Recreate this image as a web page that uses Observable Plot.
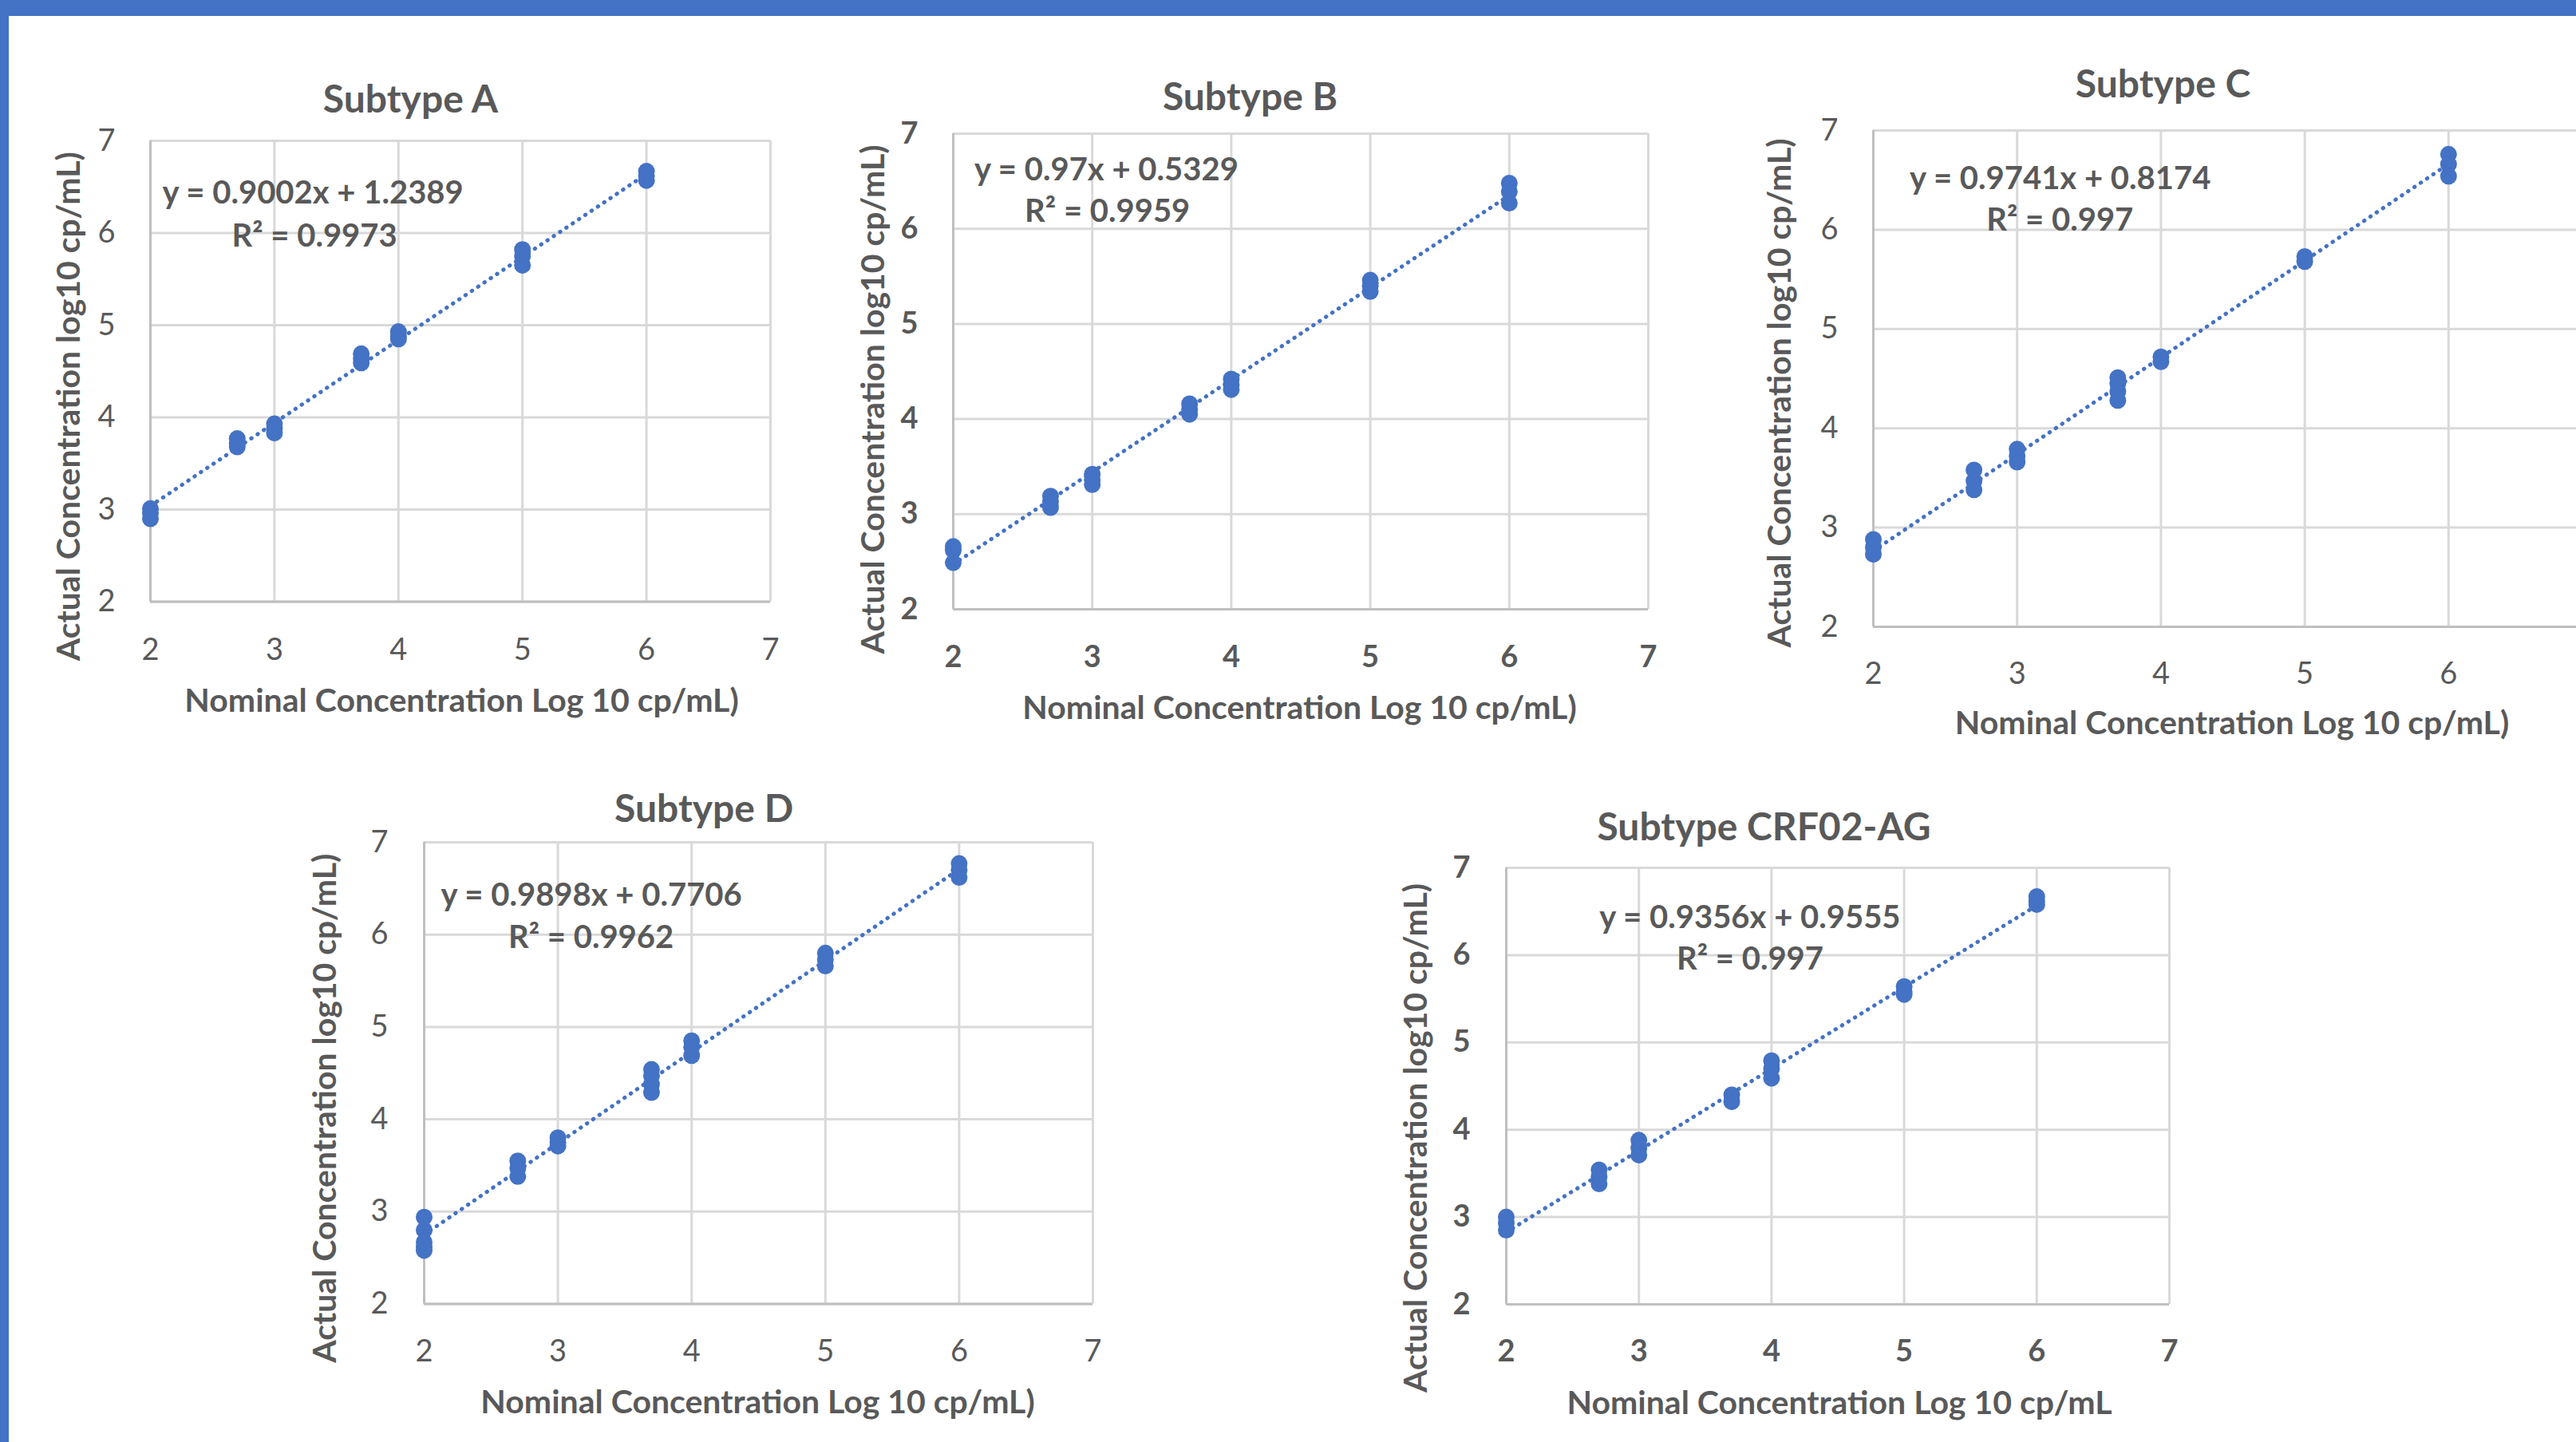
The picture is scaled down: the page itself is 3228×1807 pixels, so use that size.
<!DOCTYPE html>
<html>
<head>
<meta charset="utf-8">
<script src="https://cdn.jsdelivr.net/npm/d3@7"></script>
<script src="https://cdn.jsdelivr.net/npm/@observablehq/plot@0.6"></script>
<style>
html, body { margin: 0; padding: 0; background: #fff; overflow: hidden; }
#page { position: relative; width: 3228px; height: 1807px; overflow: hidden; background: #fff; }
.bar { position: absolute; background: #4472C4; z-index: 2; }
.panel { position: absolute; }
</style>
</head>
<body>
<div id="page">
  <div class="bar" style="left:0;top:0;width:3228px;height:20px"></div>
  <div class="bar" style="left:0;top:0;width:11px;height:1807px"></div>
</div>
<script>
// ---------------- data ----------------
const xTicks = [2, 3, 4, 5, 6, 7];
const yTicks = [2, 3, 4, 5, 6, 7];
const nominal = [2, 2.7, 3, 3.7, 4, 5, 6];
const subtypeNames = ["Subtype A", "Subtype B", "Subtype C", "Subtype D", "Subtype CRF02-AG"];

// replicate results (log10 cp/mL) at each nominal level
const actualA = [[3.01, 2.96, 2.90], [3.77, 3.72, 3.68], [3.93, 3.88, 3.83], [4.69, 4.64, 4.59], [4.93, 4.88, 4.85], [5.82, 5.75, 5.65], [6.67, 6.62, 6.57]];
const actualB = [[2.66, 2.62, 2.49], [3.19, 3.13, 3.07], [3.42, 3.36, 3.31], [4.16, 4.10, 4.05], [4.42, 4.36, 4.31], [5.46, 5.40, 5.34], [6.48, 6.39, 6.27]];
const actualC = [[2.88, 2.80, 2.73], [3.58, 3.47, 3.38], [3.79, 3.72, 3.66], [4.51, 4.45, 4.37, 4.28], [4.72, 4.67], [5.73, 5.68], [6.76, 6.66, 6.54]];
const actualD = [[2.94, 2.80, 2.67, 2.62, 2.58], [3.55, 3.47, 3.38], [3.80, 3.75, 3.71], [4.54, 4.47, 4.38, 4.29], [4.85, 4.78, 4.69], [5.80, 5.73, 5.66], [6.77, 6.70, 6.62]];
const actualE = [[3.00, 2.93, 2.85], [3.54, 3.46, 3.38], [3.88, 3.79, 3.71], [4.40, 4.32], [4.79, 4.70, 4.59], [5.64, 5.58, 5.55], [6.67, 6.62, 6.58]];

const slopes = [0.9002, 0.97, 0.9741, 0.9898, 0.9356];
const intercepts = [1.2389, 0.5329, 0.8174, 0.7706, 0.9555];
const rSquared = [0.9973, 0.9959, 0.997, 0.9962, 0.997];

const xTitles = [
  "Nominal Concentration Log 10 cp/mL)",
  "Nominal Concentration Log 10 cp/mL)",
  "Nominal Concentration Log 10 cp/mL)",
  "Nominal Concentration Log 10 cp/mL)",
  "Nominal Concentration Log 10 cp/mL"
];
const yTitle = "Actual Concentration log10 cp/mL)";
const seriesValues = [actualA, actualB, actualC, actualD, actualE];

// ---------------- layout (pixels) ----------------
const PAGE_W = 3228;
const layout = [
  {L: 188,  T: 176,  R: 965,  B: 753.5, title: [-62.5, -51], yt: [-102, 44], xt: [1.5, 124.5], eq: [15, 66],    r2: [102, 120],   ypad: 44, xpad: 46, tickWeight: "normal"},
  {L: 1194, T: 167,  R: 2065, B: 763,   title: [-63.5, -45], yt: [-100, 35], xt: [-1.5, 124.5], eq: [26.5, 45.6], r2: [89.6, 97.8],  ypad: 44, xpad: 46, tickWeight: "bold"},
  {L: 2347, T: 163,  R: 3248, B: 785,   title: [-87.5, -57], yt: [-117, 18], xt: [-1, 121.7],   eq: [45.6, 60.6], r2: [141.8, 112.3], ypad: 44, xpad: 45, tickWeight: "normal"},
  {L: 531,  T: 1055, R: 1369, B: 1633.5,title: [-68.4, -41], yt: [-124, 44], xt: [-1, 123.4],   eq: [21, 67],     r2: [105.5, 119.5], ypad: 45, xpad: 45, tickWeight: "normal"},
  {L: 1887, T: 1087, R: 2718, B: 1634,  title: [-92.5, -50], yt: [-113, 65], xt: [2, 124],      eq: [116.8, 62.8],r2: [213.5, 114.5], ypad: 45, xpad: 45, tickWeight: "bold"}
];
const M = {left: 175, right: 20, top: 100, bottom: 170};
const blue = "#4472C4";
const textGray = "#595959";

const page = document.getElementById("page");

seriesValues.forEach((values, i) => {
  const lay = layout[i];
  const points = nominal.flatMap((x, j) => values[j].map(y => ({x, y})));
  const [x0, x1] = d3.extent(nominal);
  const trend = [x0, x1].map(x => ({x, y: slopes[i] * x + intercepts[i]}));
  const eqText = `y = ${slopes[i]}x + ${intercepts[i]}`;
  const r2Text = `R² = ${rSquared[i]}`;

  const W = lay.R - lay.L, H = lay.B - lay.T;
  // tick labels whose position falls past the page edge are not shown (as in the cropped reference)
  const xPos = d3.scaleLinear([xTicks[0], xTicks[xTicks.length - 1]], [lay.L, lay.R]);
  const visibleXTicks = xTicks.filter(t => xPos(t) + 10 < PAGE_W);

  const chart = Plot.plot({
    width: W + M.left + M.right,
    height: H + M.top + M.bottom,
    marginLeft: M.left, marginRight: M.right, marginTop: M.top, marginBottom: M.bottom,
    x: {domain: [xTicks[0], xTicks[xTicks.length - 1]]},
    y: {domain: [yTicks[0], yTicks[yTicks.length - 1]]},
    style: {background: "transparent", overflow: "visible", color: textGray, fontFamily: "Lato, 'Open Sans', sans-serif"},
    marks: [
      Plot.gridX(xTicks, {stroke: "#d9d9d9", strokeOpacity: 1, strokeWidth: 3}),
      Plot.gridY(yTicks, {stroke: "#d9d9d9", strokeOpacity: 1, strokeWidth: 3}),
      Plot.ruleX([xTicks[0]], {stroke: "#bfbfbf", strokeWidth: 3}),
      Plot.ruleY([yTicks[0]], {stroke: "#bfbfbf", strokeWidth: 3}),
      Plot.axisX(visibleXTicks, {tickSize: 0, tickPadding: lay.xpad, fontSize: 38, fontWeight: lay.tickWeight, tickFormat: "d", label: null}),
      Plot.axisY(yTicks, {tickSize: 0, tickPadding: lay.ypad, fontSize: 38, fontWeight: lay.tickWeight, tickFormat: "d", label: null}),
      Plot.dot(points, {x: "x", y: "y", r: 10.5, fill: blue, stroke: "none"}),
      Plot.line(trend, {x: "x", y: "y", stroke: blue, strokeWidth: 5, strokeDasharray: "0.5 9", strokeLinecap: "round"}),
      Plot.text([subtypeNames[i]], {text: d => d, frameAnchor: "top", dx: lay.title[0], dy: lay.title[1], textAnchor: "middle", lineAnchor: "middle", fontSize: 48, fontWeight: "bold", fill: textGray}),
      Plot.text([xTitles[i]], {text: d => d, frameAnchor: "bottom", dx: lay.xt[0], dy: lay.xt[1], textAnchor: "middle", lineAnchor: "middle", fontSize: 41, fontWeight: "bold", fill: textGray, wordSpacing: "6px"}),
      Plot.text([yTitle], {text: d => d, frameAnchor: "left", dx: lay.yt[0], dy: lay.yt[1], rotate: -90, textAnchor: "middle", lineAnchor: "middle", fontSize: 41, fontWeight: "bold", fill: textGray, wordSpacing: "4px"}),
      Plot.text([eqText], {text: d => d, frameAnchor: "top-left", dx: lay.eq[0], dy: lay.eq[1], textAnchor: "start", lineAnchor: "middle", fontSize: 40, fontWeight: "bold", fill: textGray}),
      Plot.text([r2Text], {text: d => d, frameAnchor: "top-left", dx: lay.r2[0], dy: lay.r2[1], textAnchor: "start", lineAnchor: "middle", fontSize: 40, fontWeight: "bold", fill: textGray})
    ]
  });
  const div = document.createElement("div");
  div.className = "panel";
  div.style.left = (lay.L - M.left) + "px";
  div.style.top = (lay.T - M.top) + "px";
  div.style.width = (W + M.left + M.right) + "px";
  div.style.height = (H + M.top + M.bottom) + "px";
  div.appendChild(chart);
  page.appendChild(div);
});
</script>
</body>
</html>
